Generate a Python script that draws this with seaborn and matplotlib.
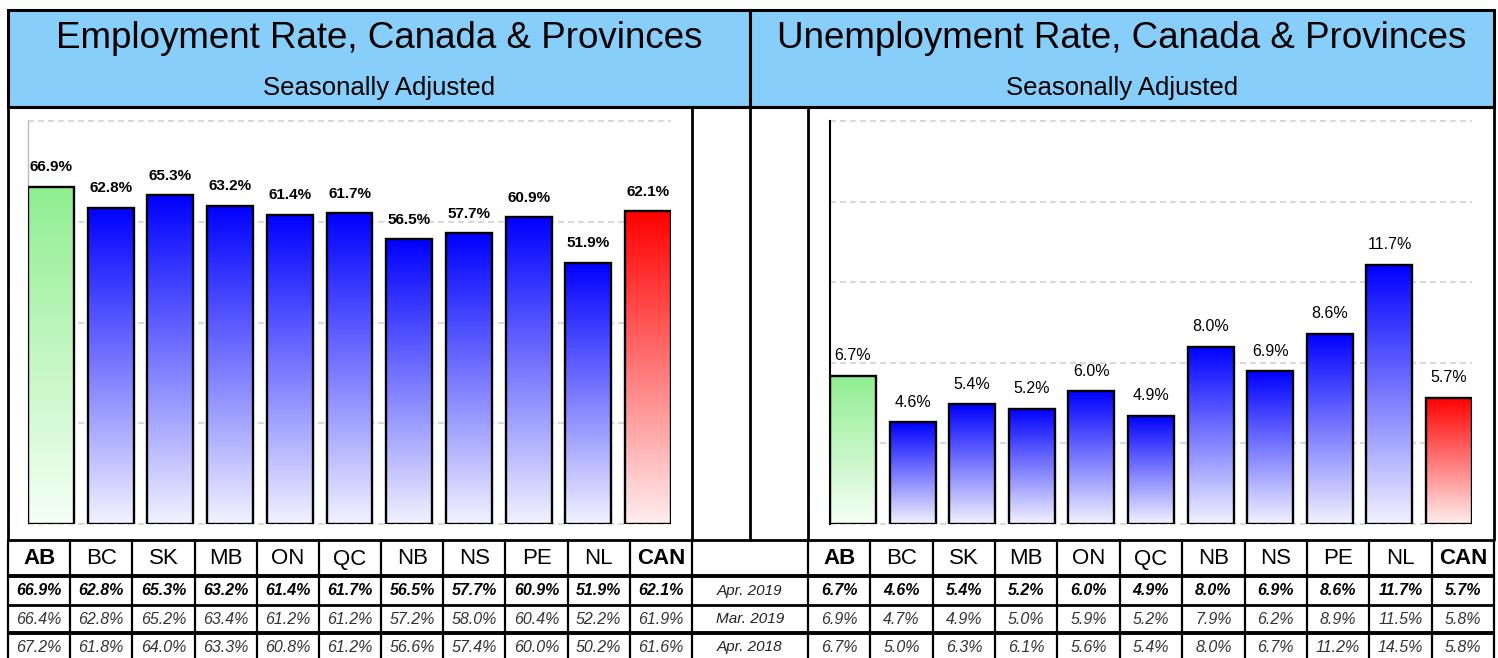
import numpy as np
import pandas as pd
import matplotlib
matplotlib.use("Agg")
import matplotlib.pyplot as plt
import seaborn as sns
from matplotlib.patches import Rectangle

# ---------------- data ----------------
provinces = ["AB", "BC", "SK", "MB", "ON", "QC", "NB", "NS", "PE", "NL", "CAN"]
period_labels = ["Apr. 2019", "Mar. 2019", "Apr. 2018"]

emp_apr19 = [66.9, 62.8, 65.3, 63.2, 61.4, 61.7, 56.5, 57.7, 60.9, 51.9, 62.1]
emp_mar19 = [66.4, 62.8, 65.2, 63.4, 61.2, 61.2, 57.2, 58.0, 60.4, 52.2, 61.9]
emp_apr18 = [67.2, 61.8, 64.0, 63.3, 60.8, 61.2, 56.6, 57.4, 60.0, 50.2, 61.6]

unemp_apr19 = [6.7, 4.6, 5.4, 5.2, 6.0, 4.9, 8.0, 6.9, 8.6, 11.7, 5.7]
unemp_mar19 = [6.9, 4.7, 4.9, 5.0, 5.9, 5.2, 7.9, 6.2, 8.9, 11.5, 5.8]
unemp_apr18 = [6.7, 5.0, 6.3, 6.1, 5.6, 5.4, 8.0, 6.7, 11.2, 14.5, 5.8]

titles = ["Employment Rate, Canada & Provinces", "Unemployment Rate, Canada & Provinces"]
subtitle = "Seasonally Adjusted"

# ---------------- style ----------------
sns.set_theme(style="white")
plt.rcParams["font.family"] = ["Liberation Sans", "DejaVu Sans"]
plt.rcParams["text.color"] = "black"

W, H = 1498, 658
fig = plt.figure(figsize=(W / 100, H / 100), dpi=100)
fig.patch.set_facecolor("white")

# overlay axes in pixel coordinates for frames / headers / tables
ov = fig.add_axes([0, 0, 1, 1], zorder=0)
ov.set_xlim(0, W)
ov.set_ylim(H, 0)
ov.axis("off")

HDR_COLOR = "#87CEFA"
X0, XM1, XMID, XM2, X1 = 8, 692, 750, 808, 1494
Y_TOP, Y_HDR, Y_TAB = 10, 107, 540
ROWS = [540, 576, 605, 633, 672]

# header boxes
for (a, b) in [(X0, XMID), (XMID, X1)]:
    ov.add_patch(Rectangle((a, Y_TOP), b - a, Y_HDR - Y_TOP, facecolor=HDR_COLOR,
                           edgecolor="black", linewidth=2.2, zorder=1))
ov.text((X0 + XMID) / 2, 38, titles[0], fontsize=26.5, ha="center", va="center")
ov.text((XMID + X1) / 2, 38, titles[1], fontsize=26.5, ha="center", va="center")
ov.text((X0 + XMID) / 2, 88, subtitle, fontsize=18.5, ha="center", va="center")
ov.text((XMID + X1) / 2, 88, subtitle, fontsize=18.5, ha="center", va="center")

# chart frames
lw_frame = 2.0
for xx in [X0, XM1, XMID, XM2, X1]:
    ov.plot([xx, xx], [Y_HDR, Y_TAB], color="black", lw=lw_frame, zorder=2)
ov.plot([X0, X1], [Y_HDR, Y_HDR], color="black", lw=2.2, zorder=2)

# table
left_edges = np.linspace(X0, XM1, 12)
right_edges = np.linspace(XM2, X1, 12)
hlw = [2.0, 2.8, 2.0, 2.8]
for y, lw in zip(ROWS[:4], hlw):
    ov.plot([X0, X1], [y, y], color="black", lw=lw, zorder=2, solid_capstyle="butt")
for xx in list(left_edges) + list(right_edges):
    ov.plot([xx, xx], [ROWS[0], H], color="black", lw=1.6, zorder=2)

row_vals = {
    "emp": [emp_apr19, emp_mar19, emp_apr18],
    "unemp": [unemp_apr19, unemp_mar19, unemp_apr18],
}
row_y = [(ROWS[1] + ROWS[2]) / 2, (ROWS[2] + ROWS[3]) / 2, 647]
for edges, key in [(left_edges, "emp"), (right_edges, "unemp")]:
    centers = (edges[:-1] + edges[1:]) / 2
    for i, p in enumerate(provinces):
        bold = p in ("AB", "CAN")
        ov.text(centers[i], (ROWS[0] + ROWS[1]) / 2 + 1, p, fontsize=16,
                fontweight="bold" if bold else "normal", ha="center", va="center")
        for r in range(3):
            v = row_vals[key][r][i]
            ov.text(centers[i], row_y[r], f"{v:.1f}%", fontsize=11.5, fontstyle="italic",
                    fontweight="bold" if r == 0 else "normal",
                    color="black" if r == 0 else "#333333",
                    ha="center", va="center")
for r, lab in enumerate(period_labels):
    ov.text((XM1 + XM2) / 2, row_y[r], lab,
            fontsize=11, fontstyle="italic", color="#222222", ha="center", va="center")

# ---------------- bar charts ----------------
def grad(top, bottom, n=256):
    top = np.array(top) / 255.0
    bottom = np.array(bottom) / 255.0
    t = np.linspace(0, 1, n)[:, None]
    arr = top[None, :] * (1 - t) + bottom[None, :] * t
    return arr[:, None, :]

BLUE = grad((0, 0, 255), (242, 242, 255))
GREEN = grad((144, 238, 144), (246, 255, 246))
RED = grad((255, 0, 0), (255, 238, 238))

def draw_chart(rect, values, ymax, label_bold, label_size, spine_color, spine_lw):
    ax = fig.add_axes(rect, zorder=3)
    ax.set_facecolor("none")
    df = pd.DataFrame({"prov": provinces, "val": values})
    sns.barplot(data=df, x="prov", y="val", ax=ax, width=0.77, color="white",
                edgecolor="black", linewidth=1.7, saturation=1, zorder=3)
    for i, patch in enumerate(ax.patches):
        patch.set_facecolor("none")
        x0, y0 = patch.get_x(), patch.get_y()
        w, h = patch.get_width(), patch.get_height()
        g = GREEN if i == 0 else (RED if i == len(provinces) - 1 else BLUE)
        im = ax.imshow(g, extent=(x0, x0 + w, y0, y0 + h), aspect="auto",
                       origin="upper", zorder=2, interpolation="bilinear")
        im.set_clip_path(patch)
        ax.annotate(f"{values[i]:.1f}%", (x0 + w / 2, y0 + h), xytext=(0, 9),
                    textcoords="offset points", ha="center", va="bottom",
                    fontsize=label_size, color="black",
                    fontweight="bold" if label_bold else "normal", zorder=4)
    ax.set_xlim(-0.385, 10.385)
    ax.set_ylim(0, ymax)
    ax.set_yticks(np.linspace(0, ymax, 5 if ymax == 80 else 6))
    ax.yaxis.grid(True, color="#D9D9D9", linestyle=(0, (3, 1.8)), linewidth=1.5)
    ax.xaxis.grid(False)
    ax.set_axisbelow(True)
    ax.tick_params(length=0, labelleft=False, labelbottom=False)
    ax.set_xlabel("")
    ax.set_ylabel("")
    for s in ["top", "right", "bottom"]:
        ax.spines[s].set_visible(False)
    ax.spines["left"].set_color(spine_color)
    ax.spines["left"].set_linewidth(spine_lw)
    for gl in ax.get_ygridlines():
        gl.set_clip_on(False)
    return ax

yb, yt = 524, 121
draw_chart([28 / W, 1 - yb / H, (671 - 28) / W, (yb - yt) / H], emp_apr19, 80,
           True, 11, "#BBBBBB", 1.0)
draw_chart([830 / W, 1 - yb / H, (1472 - 830) / W, (yb - yt) / H], unemp_apr19, 18.2,
           False, 11.5, "black", 1.5)

fig.savefig("out.png", dpi=100, facecolor="white")
